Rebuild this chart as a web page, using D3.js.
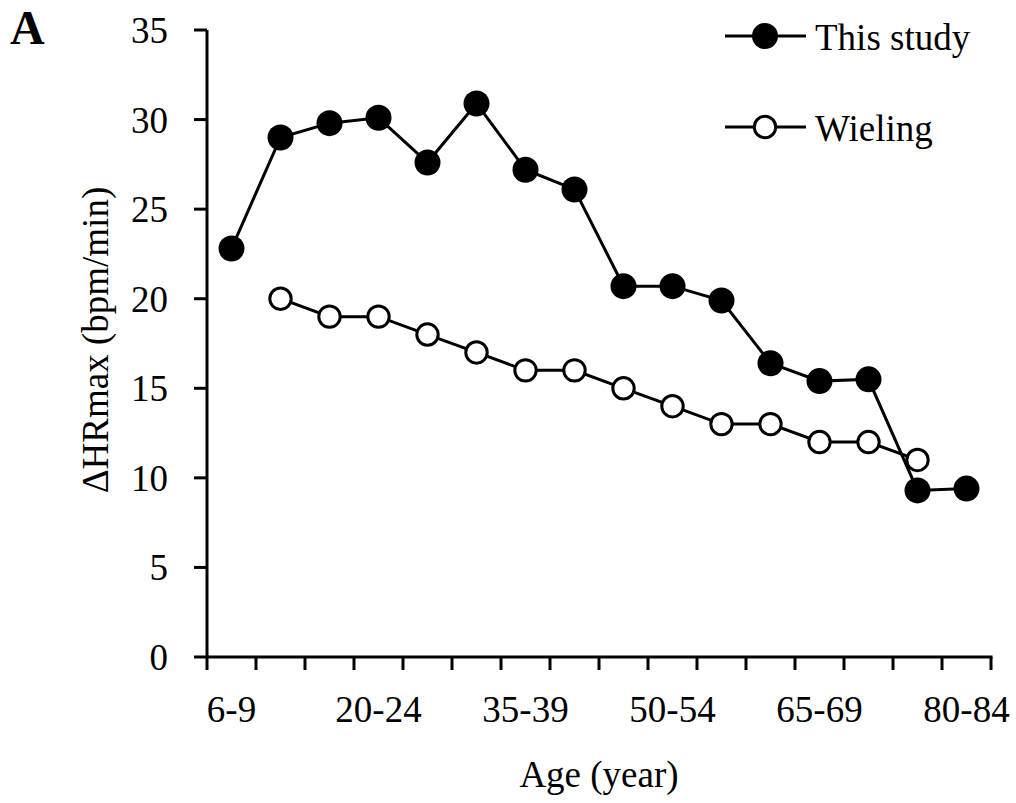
<!DOCTYPE html>
<html>
<head>
<meta charset="utf-8">
<script src="https://cdn.jsdelivr.net/npm/d3@7"></script>
<style>
  body { margin: 0; background: #fff; }
  svg text { font-family: "Liberation Serif", "Times New Roman", serif; fill: #000; }
</style>
</head>
<body>
<svg id="chart" width="1016" height="803"></svg>
<script>
// age groups, shown label every third one
const ageGroups = ['6-9', '10-14', '15-19', '20-24', '25-29', '30-34', '35-39', '40-44',
  '45-49', '50-54', '55-59', '60-64', '65-69', '70-74', '75-79', '80-84'];
const shownLabels = ['6-9', '20-24', '35-39', '50-54', '65-69', '80-84'];
const thisStudy = [22.8, 29.0, 29.8, 30.1, 27.6, 30.9, 27.2, 26.1, 20.7, 20.7, 19.9, 16.4, 15.4, 15.5, 9.3, 9.4];
const wieling = [null, 20, 19, 19, 18, 17, 16, 16, 15, 14, 13, 13, 12, 12, 11, null];
const yTicks = [0, 5, 10, 15, 20, 25, 30, 35];

(function() {
  let svg = d3.select('#chart');
  let left = 207, right = 991, top = 30, bottom = 657;
  let fontSize = '37px';

  let x = d3.scaleBand().domain(ageGroups).range([left, right]).paddingInner(0).paddingOuter(0);
  let y = d3.scaleLinear().domain([0, 35]).range([bottom, top]);
  let cx = (d) => x(d) + x.bandwidth() / 2;

  //
  // Axes
  //
  svg.append('line')
    .attr('x1', left).attr('x2', left).attr('y1', top).attr('y2', bottom)
    .attr('stroke', '#000').attr('stroke-width', 3);
  svg.append('line')
    .attr('x1', left - 1.5).attr('x2', right + 1.5).attr('y1', bottom).attr('y2', bottom)
    .attr('stroke', '#000').attr('stroke-width', 3);

  svg.selectAll('.ytick').data(yTicks).enter().append('line')
    .attr('class', 'ytick')
    .attr('x1', left - 13).attr('x2', left)
    .attr('y1', (d) => y(d)).attr('y2', (d) => y(d))
    .attr('stroke', '#000').attr('stroke-width', 3);
  svg.selectAll('.ylabel').data(yTicks).enter().append('text')
    .attr('class', 'ylabel')
    .attr('x', 168).attr('y', (d) => y(d))
    .attr('dy', '0.35em')
    .attr('text-anchor', 'end')
    .style('font-size', fontSize)
    .text((d) => d);

  // x ticks at band boundaries
  let boundaries = ageGroups.map((g) => x(g)).concat([right]);
  svg.selectAll('.xtick').data(boundaries).enter().append('line')
    .attr('class', 'xtick')
    .attr('x1', (d) => d).attr('x2', (d) => d)
    .attr('y1', bottom).attr('y2', bottom + 13)
    .attr('stroke', '#000').attr('stroke-width', 3);
  svg.selectAll('.xlabel').data(shownLabels).enter().append('text')
    .attr('class', 'xlabel')
    .attr('x', (d) => cx(d)).attr('y', 722)
    .attr('text-anchor', 'middle')
    .style('font-size', fontSize)
    .text((d) => d);

  svg.append('text')
    .attr('x', 599).attr('y', 787)
    .attr('text-anchor', 'middle')
    .style('font-size', fontSize)
    .text('Age (year)');
  svg.append('text')
    .attr('transform', 'translate(108, 340) rotate(-90)')
    .attr('text-anchor', 'middle')
    .style('font-size', fontSize)
    .text('ΔHRmax (bpm/min)');

  // panel letter
  svg.append('text')
    .attr('x', 10).attr('y', 44)
    .style('font-size', '48px').style('font-weight', 'bold')
    .text('A');

  //
  // Series
  //
  let line = d3.line()
    .defined((d) => d.v !== null)
    .x((d) => cx(d.g)).y((d) => y(d.v));

  let wData = ageGroups.map((g, i) => ({ g: g, v: wieling[i] }));
  let sData = ageGroups.map((g, i) => ({ g: g, v: thisStudy[i] }));

  svg.append('path').datum(wData)
    .attr('d', line).attr('fill', 'none')
    .attr('stroke', '#000').attr('stroke-width', 3);
  svg.selectAll('.wpt').data(wData.filter((d) => d.v !== null)).enter().append('circle')
    .attr('class', 'wpt')
    .attr('cx', (d) => cx(d.g)).attr('cy', (d) => y(d.v))
    .attr('r', 10.7).attr('fill', '#fff')
    .attr('stroke', '#000').attr('stroke-width', 3);

  svg.append('path').datum(sData)
    .attr('d', line).attr('fill', 'none')
    .attr('stroke', '#000').attr('stroke-width', 3);
  svg.selectAll('.spt').data(sData).enter().append('circle')
    .attr('class', 'spt')
    .attr('cx', (d) => cx(d.g)).attr('cy', (d) => y(d.v))
    .attr('r', 13).attr('fill', '#000');

  //
  // Legend
  //
  let legend = [
    { name: 'This study', y: 36, filled: true },
    { name: 'Wieling', y: 127, filled: false }
  ];
  let lg = svg.selectAll('.legend').data(legend).enter().append('g')
    .attr('class', 'legend')
    .attr('transform', (d) => `translate(0, ${d.y})`);
  lg.append('line')
    .attr('x1', 725).attr('x2', 806).attr('y1', 0).attr('y2', 0)
    .attr('stroke', '#000').attr('stroke-width', 3);
  lg.append('circle')
    .attr('cx', 765).attr('cy', 0)
    .attr('r', (d) => d.filled ? 13 : 10.7)
    .attr('fill', (d) => d.filled ? '#000' : '#fff')
    .attr('stroke', '#000').attr('stroke-width', (d) => d.filled ? 0 : 3);
  lg.append('text')
    .attr('x', 815).attr('y', 0).attr('dy', '0.37em')
    .style('font-size', fontSize)
    .text((d) => d.name);
})();
</script>
</body>
</html>
